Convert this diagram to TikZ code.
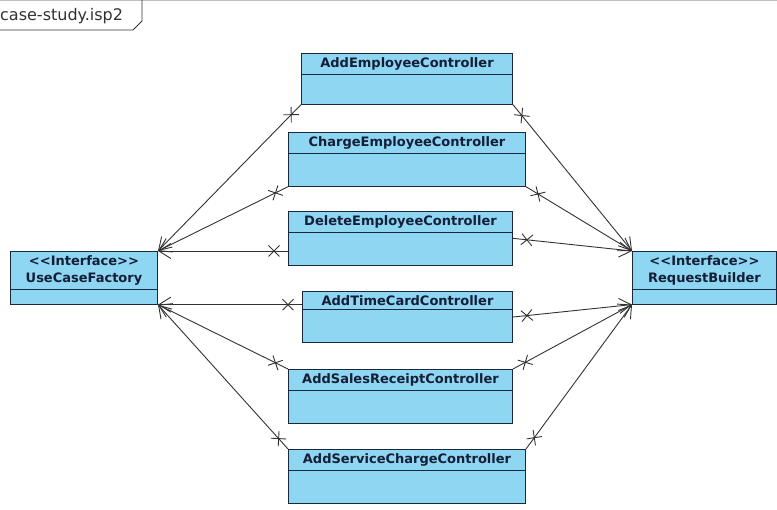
\documentclass[tikz,border=0pt]{standalone}
\usepackage{fontspec}
\usetikzlibrary{shapes.multipart,arrows.meta,decorations.markings}
\newfontfamily\umlfont{DejaVu Sans}
\definecolor{classfill}{RGB}{142,214,242}
\definecolor{classdraw}{RGB}{25,40,60}
\definecolor{classtext}{RGB}{20,30,55}
\definecolor{linkcolor}{RGB}{50,50,50}
\definecolor{framegray}{RGB}{190,190,190}

\tikzset{
  classbox/.style={rectangle split, rectangle split parts=2, draw=classdraw,
    fill=classfill, line width=1pt, text=classtext, align=center,
    font=\umlfont\bfseries\fontsize{13}{17}\selectfont,
    inner xsep=0pt, inner ysep=3.5pt, anchor=north west},
  assoc/.style={draw=linkcolor, line width=0.9pt,
    -{Straight Barb[length=12pt,width=15pt]},
    decoration={markings, mark=at position 14pt with
      {\draw[-, line width=0.9pt] (-5.5pt,-5.5pt) -- (5.5pt,5.5pt) (-5.5pt,5.5pt) -- (5.5pt,-5.5pt);}},
    postaction={decorate}}
}

\begin{document}
\begin{tikzpicture}[x=1pt,y=-1pt]
    \useasboundingbox (0,0) rectangle (777,510);

    \draw[framegray] (0,0.5) -- (777,0.5);
    \node (frametitle) [anchor=base west, inner sep=0pt, text=linkcolor,
        font=\umlfont\fontsize{16}{18}\selectfont] at (0,21) {case-study.isp2};
    \draw[linkcolor, line width=0.9pt] (0,30) -- (133,30) -- (142,21) -- (142,0);

    \node (ucf) [classbox, text width=147pt] at (10,251)
        {<<Interface>>\\UseCaseFactory\nodepart{two}\rule{0pt}{7pt}};
    \node (rb) [classbox, text width=144pt] at (632,251)
        {<<Interface>>\\RequestBuilder\nodepart{two}\rule{0pt}{7pt}};

    \node (ae) [classbox, text width=211pt] at (301,53)
        {AddEmployeeController\nodepart{two}\rule{0pt}{22pt}};
    \node (ce) [classbox, text width=237pt] at (288,132)
        {ChargeEmployeeController\nodepart{two}\rule{0pt}{25pt}};
    \node (de) [classbox, text width=224pt] at (288,211)
        {DeleteEmployeeController\nodepart{two}\rule{0pt}{25pt}};
    \node (atc) [classbox, text width=210pt] at (302,291)
        {AddTimeCardController\nodepart{two}\rule{0pt}{25pt}};
    \node (asr) [classbox, text width=224pt] at (288,369)
        {AddSalesReceiptController\nodepart{two}\rule{0pt}{25pt}};
    \node (asc) [classbox, text width=237pt] at (288,449)
        {AddServiceChargeController\nodepart{two}\rule{0pt}{25pt}};

    \draw[assoc] (ae.south west) -- (ucf.north east);
    \draw[assoc] (ce.south west) -- (ucf.north east);
    \draw[assoc] (ucf.north east -| de.west) -- (ucf.north east);
    \draw[assoc] (ucf.south east -| atc.west) -- (ucf.south east);
    \draw[assoc] (asr.north west) -- (ucf.south east);
    \draw[assoc] (asc.north west) -- (ucf.south east);

    \draw[assoc] (ae.south east) -- (rb.north west);
    \draw[assoc] (ce.south east) -- (rb.north west);
    \draw[assoc] (de.east) -- (rb.north west);
    \draw[assoc] (atc.east) -- (rb.south west);
    \draw[assoc] (asr.north east) -- (rb.south west);
    \draw[assoc] (asc.north east) -- (rb.south west);
\end{tikzpicture}
\end{document}
